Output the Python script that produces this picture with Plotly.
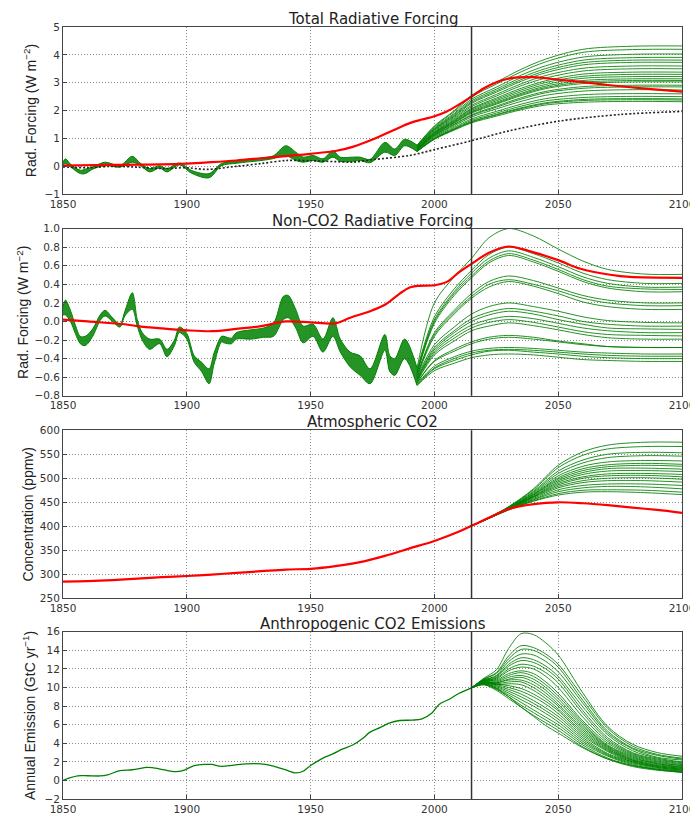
import plotly.graph_objects as go

GREEN = "#008000"
RED = "#ff0000"
X_TICKS = [1850, 1900, 1950, 2000, 2050, 2100]

# ---------------- Panel 1: Total Radiative Forcing ----------------
TOTAL_RED_YEARS = [1850, 1870, 1880, 1900, 1910, 1920, 1930, 1940, 1950, 1960, 1967, 1975, 1980, 1985, 1990,
                   1995, 2000, 2005, 2010, 2015, 2020, 2025, 2030, 2040, 2050, 2060, 2070, 2085, 2100]
TOTAL_RED = [0.03, 0.05, 0.06, 0.10, 0.15, 0.21, 0.29, 0.37, 0.45, 0.55, 0.70, 0.96, 1.16, 1.36, 1.55,
             1.68, 1.80, 1.97, 2.22, 2.50, 2.80, 3.02, 3.15, 3.20, 3.11, 3.02, 2.92, 2.79, 2.68]
TOTAL_DOT_YEARS = [1850, 1860, 1870, 1880, 1890, 1900, 1908, 1920, 1930, 1940, 1950, 1960, 1967, 1975,
                   1990, 2000, 2015, 2030, 2050, 2075, 2100]
TOTAL_DOT = [-0.02, -0.05, 0.0, -0.03, -0.08, -0.05, -0.11, 0.0, 0.10, 0.21, 0.20, 0.17, 0.15, 0.24,
             0.39, 0.60, 0.92, 1.27, 1.62, 1.86, 1.97]
TOTAL_BAND_YEARS = [1850, 1851, 1853, 1857, 1859, 1862, 1867, 1873, 1878, 1881, 1885, 1889, 1892, 1897,
                    1902, 1909, 1914, 1920, 1931, 1935, 1940, 1944, 1947, 1951, 1955, 1959, 1962, 1967,
                    1970, 1974, 1980, 1984, 1988, 1993]
TOTAL_BAND_LOW = [0.05, 0.09, -0.02, -0.26, -0.26, -0.10, 0.03, -0.03, 0.15, 0.05, -0.20, -0.06, -0.20, 0.05,
                  -0.25, -0.41, 0.02, 0.11, 0.22, 0.28, 0.39, 0.21, 0.15, 0.21, 0.15, 0.33, 0.18, 0.18,
                  0.21, 0.13, 0.51, 0.39, 0.74, 0.53]
TOTAL_BAND_HIGH = [0.15, 0.27, 0.08, -0.14, -0.10, -0.02, 0.15, 0.03, 0.36, 0.13, -0.08, 0.02, -0.08, 0.12,
                   -0.15, -0.26, 0.10, 0.19, 0.31, 0.38, 0.74, 0.51, 0.33, 0.39, 0.27, 0.56, 0.33, 0.33,
                   0.33, 0.25, 0.86, 0.62, 0.97, 0.76]
TOTAL_MEMBER_YEARS = [1993, 2000, 2008, 2015, 2025, 2035, 2045, 2060, 2080, 2100]
TOTAL_MEMBERS = [
    [0.76, 1.45, 2.00, 2.55, 3.02, 3.48, 3.85, 4.20, 4.31, 4.32],
    [0.75, 1.42, 1.96, 2.49, 2.95, 3.39, 3.75, 4.09, 4.19, 4.20],
    [0.73, 1.38, 1.90, 2.41, 2.84, 3.27, 3.61, 3.92, 4.02, 4.03],
    [0.71, 1.35, 1.86, 2.35, 2.77, 3.18, 3.51, 3.81, 3.90, 3.91],
    [0.70, 1.33, 1.82, 2.30, 2.71, 3.11, 3.43, 3.72, 3.81, 3.81],
    [0.69, 1.31, 1.79, 2.26, 2.66, 3.05, 3.36, 3.64, 3.73, 3.73],
    [0.68, 1.28, 1.75, 2.19, 2.58, 2.96, 3.26, 3.52, 3.60, 3.60],
    [0.67, 1.25, 1.71, 2.14, 2.52, 2.89, 3.17, 3.42, 3.50, 3.50],
    [0.65, 1.22, 1.67, 2.08, 2.45, 2.80, 3.07, 3.31, 3.38, 3.38],
    [0.64, 1.21, 1.64, 2.05, 2.40, 2.74, 3.01, 3.23, 3.30, 3.30],
    [0.63, 1.19, 1.62, 2.01, 2.35, 2.68, 2.94, 3.16, 3.22, 3.22],
    [0.62, 1.17, 1.59, 1.97, 2.30, 2.62, 2.88, 3.08, 3.14, 3.14],
    [0.62, 1.15, 1.57, 1.94, 2.26, 2.58, 2.83, 3.02, 3.08, 3.08],
    [0.61, 1.14, 1.55, 1.91, 2.23, 2.54, 2.79, 2.97, 3.03, 3.03],
    [0.60, 1.11, 1.51, 1.85, 2.16, 2.46, 2.69, 2.86, 2.91, 2.91],
    [0.59, 1.10, 1.49, 1.82, 2.12, 2.41, 2.64, 2.80, 2.85, 2.85],
    [0.58, 1.07, 1.45, 1.77, 2.06, 2.33, 2.55, 2.70, 2.75, 2.74],
    [0.56, 1.04, 1.40, 1.70, 1.97, 2.23, 2.43, 2.57, 2.61, 2.60],
    [0.55, 1.01, 1.36, 1.65, 1.91, 2.16, 2.35, 2.47, 2.51, 2.50],
    [0.54, 0.99, 1.34, 1.61, 1.86, 2.10, 2.28, 2.40, 2.43, 2.42],
    [0.54, 0.98, 1.32, 1.59, 1.84, 2.07, 2.25, 2.36, 2.39, 2.38],
    [0.53, 0.97, 1.30, 1.56, 1.80, 2.03, 2.20, 2.30, 2.33, 2.32],
]

# ---------------- Panel 2: Non-CO2 Radiative Forcing ----------------
NONCO2_RED_YEARS = [1850, 1860, 1875, 1880, 1890, 1900, 1910, 1920, 1930, 1940, 1950, 1960, 1966, 1974, 1980,
                    1986, 1990, 1994, 2000, 2005, 2010, 2015, 2022, 2030, 2038, 2050, 2059, 2071, 2079, 2100]
NONCO2_RED = [0.02, 0.0, -0.03, -0.05, -0.075, -0.095, -0.105, -0.08, -0.05, 0.0, -0.01, -0.02, 0.04, 0.11, 0.18,
              0.30, 0.366, 0.384, 0.39, 0.426, 0.53, 0.62, 0.74, 0.807, 0.76, 0.66, 0.567, 0.503, 0.479, 0.47]
NONCO2_BAND_YEARS = [1850, 1851, 1853, 1855, 1857, 1859, 1862, 1865, 1867, 1870, 1873, 1875, 1878, 1880, 1882,
                     1885, 1889, 1892, 1895, 1897, 1900, 1903, 1906, 1909, 1911, 1914, 1915, 1918, 1920, 1926,
                     1931, 1935, 1939, 1941, 1944, 1947, 1951, 1955, 1959, 1962, 1966, 1970, 1974, 1980, 1982,
                     1984, 1988, 1993]
NONCO2_BAND_LOW = [0.07, 0.07, 0.0, -0.13, -0.24, -0.26, -0.16, 0.01, 0.06, 0.0, -0.06, 0.06, 0.13, -0.05, -0.20,
                   -0.30, -0.24, -0.38, -0.26, -0.12, -0.19, -0.44, -0.54, -0.67, -0.46, -0.22, -0.23, -0.24,
                   -0.19, -0.19, -0.17, -0.16, 0.02, 0.04, -0.07, -0.23, -0.16, -0.33, -0.16, -0.33, -0.49,
                   -0.58, -0.67, -0.31, -0.54, -0.58, -0.40, -0.69]
NONCO2_BAND_HIGH = [0.16, 0.23, 0.12, -0.04, -0.16, -0.16, -0.08, 0.07, 0.12, 0.04, -0.03, 0.11, 0.31, 0.02, -0.12,
                    -0.19, -0.19, -0.30, -0.20, -0.06, -0.13, -0.37, -0.44, -0.51, -0.34, -0.16, -0.16, -0.18,
                    -0.12, -0.09, -0.07, -0.02, 0.27, 0.28, 0.13, -0.05, -0.03, -0.19, 0.04, -0.19, -0.33,
                    -0.37, -0.51, -0.14, -0.37, -0.40, -0.19, -0.50]
NONCO2_MEMBER_YEARS = [1993, 2000, 2008, 2015, 2022, 2030, 2040, 2050, 2060, 2070, 2085, 2100]
NONCO2_MEMBERS = [
    [-0.50, 0.20, 0.48, 0.68, 0.90, 1.00, 0.92, 0.78, 0.65, 0.56, 0.51, 0.507],
    [-0.52, 0.05, 0.35, 0.55, 0.72, 0.80, 0.73, 0.63, 0.52, 0.45, 0.41, 0.41],
    [-0.54, 0.02, 0.32, 0.52, 0.68, 0.76, 0.69, 0.59, 0.48, 0.41, 0.37, 0.37],
    [-0.55, 0.00, 0.30, 0.49, 0.65, 0.73, 0.66, 0.56, 0.45, 0.38, 0.35, 0.345],
    [-0.56, -0.02, 0.28, 0.47, 0.63, 0.71, 0.64, 0.54, 0.43, 0.36, 0.32, 0.32],
    [-0.58, -0.12, 0.12, 0.30, 0.43, 0.49, 0.44, 0.36, 0.28, 0.23, 0.20, 0.20],
    [-0.58, -0.14, 0.10, 0.27, 0.40, 0.45, 0.40, 0.33, 0.25, 0.20, 0.17, 0.17],
    [-0.60, -0.16, 0.08, 0.25, 0.37, 0.43, 0.38, 0.30, 0.21, 0.16, 0.13, 0.13],
    [-0.60, -0.25, -0.06, 0.08, 0.16, 0.20, 0.16, 0.11, 0.05, 0.01, -0.01, -0.015],
    [-0.62, -0.28, -0.10, 0.03, 0.10, 0.14, 0.11, 0.06, 0.00, -0.03, -0.05, -0.05],
    [-0.62, -0.30, -0.12, 0.00, 0.07, 0.11, 0.08, 0.02, -0.03, -0.07, -0.08, -0.085],
    [-0.63, -0.32, -0.15, -0.04, 0.02, 0.055, 0.03, -0.02, -0.07, -0.10, -0.12, -0.12],
    [-0.64, -0.34, -0.18, -0.07, -0.01, 0.02, -0.01, -0.06, -0.11, -0.14, -0.15, -0.155],
    [-0.65, -0.36, -0.21, -0.10, -0.05, -0.015, -0.045, -0.09, -0.14, -0.175, -0.19, -0.19],
    [-0.66, -0.42, -0.30, -0.22, -0.17, -0.15, -0.17, -0.21, -0.24, -0.27, -0.28, -0.28],
    [-0.66, -0.43, -0.32, -0.24, -0.19, -0.17, -0.19, -0.22, -0.25, -0.27, -0.28, -0.28],
    [-0.67, -0.48, -0.38, -0.32, -0.29, -0.28, -0.29, -0.31, -0.33, -0.34, -0.35, -0.35],
    [-0.68, -0.50, -0.40, -0.34, -0.31, -0.30, -0.31, -0.33, -0.35, -0.365, -0.374, -0.374],
    [-0.68, -0.51, -0.42, -0.36, -0.32, -0.31, -0.33, -0.35, -0.375, -0.39, -0.40, -0.40],
    [-0.69, -0.53, -0.45, -0.39, -0.36, -0.35, -0.36, -0.385, -0.41, -0.42, -0.43, -0.43],
]

# ---------------- Panel 3: Atmospheric CO2 ----------------
CO2_RED_YEARS = [1850, 1860, 1870, 1880, 1890, 1900, 1910, 1920, 1930, 1940, 1950, 1960, 1970, 1980, 1990,
                 2000, 2010, 2015, 2020, 2025, 2030, 2040, 2050, 2060, 2070, 2080, 2090, 2100]
CO2_RED = [285, 286, 288, 291, 294, 296.5, 299.5, 303, 306.5, 310, 311.5, 317, 325.5, 338.5, 354,
           369.5, 389, 401, 413, 425, 436, 446, 450, 448, 444, 439, 434, 428]
CO2_MEMBER_YEARS = [2015, 2020, 2030, 2040, 2050, 2060, 2070, 2085, 2100]
CO2_MEMBERS = [
    [401, 413, 441, 478, 527, 555, 569, 575, 575],
    [401, 413, 440, 476, 522, 548, 561, 566, 566],
    [401, 413, 440, 473, 515, 538, 550, 554, 553],
    [401, 413, 439, 471, 510, 532, 543, 547, 546],
    [401, 413, 438, 469, 505, 525, 534, 537, 536],
    [401, 413, 438, 467, 501, 520, 528, 531, 529],
    [401, 413, 438, 466, 498, 516, 524, 527, 525],
    [401, 413, 437, 465, 495, 512, 520, 521, 519],
    [401, 413, 437, 463, 492, 508, 515, 516, 514],
    [401, 412, 437, 462, 489, 503, 509, 510, 508],
    [401, 412, 436, 461, 486, 500, 505, 506, 503],
    [401, 412, 436, 460, 483, 495, 500, 501, 498],
    [401, 412, 436, 458, 480, 491, 495, 495, 492],
    [401, 412, 435, 456, 476, 485, 488, 488, 485],
    [401, 412, 435, 455, 472, 480, 483, 482, 478],
    [401, 412, 434, 453, 468, 475, 476, 475, 471],
    [401, 412, 434, 452, 465, 471, 472, 470, 466],
]

# ---------------- Panel 4: Anthropogenic CO2 Emissions ----------------
EMIS_HIST_YEARS = [1850, 1853, 1856, 1860, 1865, 1868, 1873, 1878, 1884, 1886, 1891, 1895, 1898, 1903, 1907,
                   1910, 1914, 1919, 1924, 1930, 1935, 1940, 1944, 1947, 1950, 1953, 1955, 1959, 1963, 1967,
                   1971, 1974, 1978, 1982, 1986, 1991, 1995, 1999, 2002, 2006, 2010, 2015]
EMIS_HIST = [0.0, 0.3, 0.5, 0.5, 0.48, 0.6, 1.05, 1.15, 1.4, 1.37, 1.13, 0.95, 1.02, 1.58, 1.72,
             1.72, 1.51, 1.65, 1.79, 1.79, 1.55, 1.13, 0.81, 0.99, 1.6, 2.1, 2.4, 2.86, 3.39, 3.81,
             4.51, 5.2, 5.68, 6.20, 6.45, 6.49, 6.63, 7.26, 8.21, 8.74, 9.38, 9.97]
EMIS_MEMBER_YEARS = [2015, 2020, 2025, 2030, 2035, 2040, 2045, 2050, 2060, 2070, 2080, 2090, 2100]
EMIS_MEMBERS = [
    [9.97, 11.0, 11.9, 14.2, 15.8, 15.7, 14.8, 13.5, 9.4, 5.8, 3.9, 3.0, 2.6],
    [9.97, 10.9, 11.6, 13.4, 14.5, 14.3, 13.6, 12.5, 9.0, 5.6, 3.7, 2.8, 2.4],
    [9.97, 10.9, 11.5, 13.1, 14.1, 14.0, 13.3, 12.2, 8.6, 5.3, 3.5, 2.7, 2.3],
    [9.97, 10.8, 11.3, 12.8, 13.6, 13.5, 12.8, 11.7, 8.3, 5.1, 3.4, 2.5, 2.2],
    [9.97, 10.8, 11.2, 12.5, 13.2, 13.0, 12.3, 11.2, 7.9, 4.9, 3.2, 2.4, 2.0],
    [9.97, 10.7, 11.1, 12.3, 12.9, 12.7, 12.0, 10.9, 7.5, 4.6, 3.0, 2.3, 1.9],
    [9.97, 10.7, 11.0, 12.0, 12.5, 12.3, 11.6, 10.5, 7.2, 4.4, 2.9, 2.2, 1.8],
    [9.97, 10.6, 10.9, 11.8, 12.2, 12.0, 11.2, 10.0, 6.8, 4.2, 2.8, 2.1, 1.7],
    [9.97, 10.8, 10.8, 11.5, 11.8, 11.5, 10.6, 9.4, 6.4, 4.0, 2.7, 2.0, 1.6],
    [9.97, 10.7, 10.7, 11.3, 11.6, 11.2, 10.3, 9.1, 6.2, 3.8, 2.6, 1.9, 1.6],
    [9.97, 10.6, 10.6, 11.1, 11.3, 10.9, 10.0, 8.8, 6.0, 3.7, 2.5, 1.8, 1.5],
    [9.97, 10.6, 10.5, 10.9, 11.1, 10.6, 9.7, 8.5, 5.8, 3.6, 2.4, 1.8, 1.4],
    [9.97, 10.5, 10.5, 10.8, 10.8, 10.3, 9.4, 8.2, 5.6, 3.5, 2.3, 1.7, 1.4],
    [9.97, 10.5, 10.4, 10.6, 10.6, 10.0, 9.1, 8.0, 5.4, 3.4, 2.2, 1.6, 1.3],
    [9.97, 10.5, 10.3, 10.4, 10.3, 9.7, 8.8, 7.7, 5.2, 3.3, 2.2, 1.6, 1.3],
    [9.97, 10.6, 10.4, 10.2, 9.9, 9.3, 8.5, 7.5, 5.0, 3.2, 2.1, 1.5, 1.2],
    [9.97, 10.5, 10.3, 10.0, 9.6, 9.0, 8.2, 7.2, 4.8, 3.1, 2.0, 1.5, 1.2],
    [9.97, 10.5, 10.2, 9.8, 9.3, 8.6, 7.8, 6.9, 4.6, 2.9, 2.0, 1.4, 1.1],
    [9.97, 10.4, 10.1, 9.6, 9.0, 8.3, 7.5, 6.6, 4.4, 2.8, 1.9, 1.4, 1.1],
    [9.97, 10.4, 10.0, 9.4, 8.7, 8.0, 7.2, 6.3, 4.2, 2.7, 1.8, 1.3, 1.0],
    [9.97, 10.4, 9.9, 9.2, 8.4, 7.6, 6.8, 6.0, 4.0, 2.6, 1.7, 1.2, 1.0],
    [9.97, 10.3, 9.8, 9.0, 8.1, 7.3, 6.5, 5.7, 3.8, 2.4, 1.6, 1.2, 0.9],
    [9.97, 10.3, 9.7, 8.8, 7.9, 7.0, 6.2, 5.4, 3.6, 2.3, 1.5, 1.1, 0.9],
    [9.97, 10.4, 9.9, 9.0, 7.9, 6.9, 5.9, 5.1, 3.5, 2.3, 1.6, 1.15, 0.85],
]

TITLES = ["Total Radiative Forcing", "Non-CO2 Radiative Forcing", "Atmospheric CO2",
          "Anthropogenic CO2 Emissions"]
YLABELS = ["Rad. Forcing (W m<sup>−2</sup>)", "Rad. Forcing (W m<sup>−2</sup>)",
           "Concentration (ppmv)", "Annual Emission (GtC yr<sup>−1</sup>)"]
Y_TICKS = [[-1, 0, 1, 2, 3, 4, 5],
           [-0.8, -0.6, -0.4, -0.2, 0.0, 0.2, 0.4, 0.6, 0.8, 1.0],
           [250, 300, 350, 400, 450, 500, 550, 600],
           [-2, 0, 2, 4, 6, 8, 10, 12, 14, 16]]
Y_RANGES = [[-1, 5], [-0.8, 1.0], [250, 600], [-2, 16]]
Y_FORMATS = ["d", ".1f", "d", "d"]
DOMAINS = [[0.7834, 1.0], [0.5223, 0.7389], [0.2599, 0.4777], [0.0, 0.2166]]
YLABEL_X = [-0.054, -0.065, -0.056, -0.054]

fig = go.Figure()


def line(x, y, panel, color=GREEN, width=1.0, dash=None, opacity=1.0, fill=None, fillcolor=None):
    fig.add_trace(go.Scatter(
        x=x, y=y, mode="lines", xaxis="x" if panel == 1 else f"x{panel}",
        yaxis="y" if panel == 1 else f"y{panel}",
        line=dict(color=color, width=width, dash=dash, shape="spline", smoothing=0.9),
        opacity=opacity, fill=fill, fillcolor=fillcolor, hoverinfo="skip", showlegend=False))


def band(years, low, high, panel):
    line(years, high, panel, width=1.0)
    line(years, low, panel, width=1.0, fill="tonexty", fillcolor="rgba(0,128,0,0.85)")


# Panel 1
band(TOTAL_BAND_YEARS, TOTAL_BAND_LOW, TOTAL_BAND_HIGH, 1)
for m in TOTAL_MEMBERS:
    line(TOTAL_MEMBER_YEARS, m, 1, width=1.0, opacity=0.85)
line(TOTAL_DOT_YEARS, TOTAL_DOT, 1, color="#222222", width=1.6, dash="2px,2px")
line(TOTAL_RED_YEARS, TOTAL_RED, 1, color=RED, width=2.2)

# Panel 2
band(NONCO2_BAND_YEARS, NONCO2_BAND_LOW, NONCO2_BAND_HIGH, 2)
for m in NONCO2_MEMBERS:
    line(NONCO2_MEMBER_YEARS, m, 2, width=1.0, opacity=0.85)
line(NONCO2_RED_YEARS, NONCO2_RED, 2, color=RED, width=2.2)

# Panel 3
for m in CO2_MEMBERS:
    line(CO2_MEMBER_YEARS, m, 3, width=1.0, opacity=0.85)
line(CO2_RED_YEARS, CO2_RED, 3, color=RED, width=2.2)

# Panel 4
line(EMIS_HIST_YEARS, EMIS_HIST, 4, width=1.3)
for m in EMIS_MEMBERS:
    line(EMIS_MEMBER_YEARS, m, 4, width=1.0, opacity=0.85)

axis_common = dict(showline=True, mirror=True, linecolor="#444444", linewidth=1,
                   ticks="inside", ticklen=4, tickcolor="#444444",
                   showgrid=True, gridcolor="#8a8a8a", griddash="1px,2px", gridwidth=1,
                   zeroline=False, ticklabeloverflow="allow",
                   tickfont=dict(family="DejaVu Sans", size=10.5, color="#333333"))

layout = dict(width=698, height=817, margin=dict(l=55, r=10.5, t=19, b=13),
              plot_bgcolor="white", paper_bgcolor="white", showlegend=False)
shapes = []
annotations = []
for i in range(4):
    n = i + 1
    xname = "xaxis" if n == 1 else f"xaxis{n}"
    yname = "yaxis" if n == 1 else f"yaxis{n}"
    xref = "x" if n == 1 else f"x{n}"
    yref = "y" if n == 1 else f"y{n}"
    layout[xname] = dict(axis_common, range=[1850, 2100], tickvals=X_TICKS, anchor=yref,
                         domain=[0, 1])
    layout[yname] = dict(axis_common, range=Y_RANGES[i], tickvals=Y_TICKS[i], tickformat=Y_FORMATS[i],
                         anchor=xref, domain=DOMAINS[i])
    shapes.append(dict(type="line", xref=xref, yref=f"{yref} domain", x0=2015, x1=2015, y0=0, y1=1,
                       line=dict(color="#333333", width=1.5)))
    annotations.append(dict(text=TITLES[i], xref="paper", yref="paper", x=0.5, y=DOMAINS[i][1],
                            xanchor="center", yanchor="bottom", yshift=-2, borderpad=0, showarrow=False,
                            font=dict(family="DejaVu Sans", size=15, color="#222222")))
    annotations.append(dict(text=YLABELS[i], xref="paper", yref="paper", x=YLABEL_X[i],
                            y=(DOMAINS[i][0] + DOMAINS[i][1]) / 2, xanchor="center", yanchor="middle",
                            textangle=-90, showarrow=False,
                            font=dict(family="Liberation Sans", size=14, color="#222222")))
layout["shapes"] = shapes
layout["annotations"] = annotations
fig.update_layout(**layout)

fig.write_html("out.html")
